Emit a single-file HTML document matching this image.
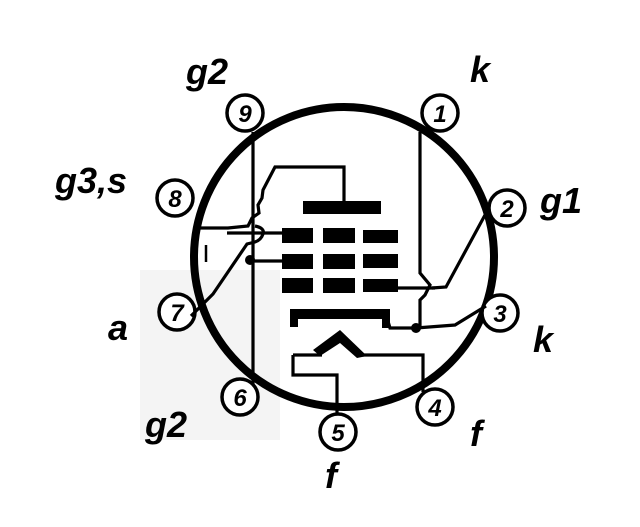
<!DOCTYPE html>
<html><head><style>
html,body{margin:0;padding:0;background:#fff;}
svg{display:block;}
text{font-family:"Liberation Sans",sans-serif;font-style:italic;fill:#000;}
</style></head><body>
<svg width="640" height="527" viewBox="0 0 640 527" xmlns="http://www.w3.org/2000/svg">
<rect x="140" y="270" width="140" height="170" fill="#f4f4f4"/>
<g fill="none" stroke="#000">
<ellipse cx="344" cy="257" rx="150" ry="150" stroke-width="8"/>
<g stroke-width="3.5" fill="#fff">
<circle cx="245" cy="113" r="18"/>
<circle cx="440" cy="113" r="18"/>
<circle cx="175" cy="198" r="18"/>
<circle cx="507" cy="208" r="18"/>
<circle cx="177" cy="312" r="18"/>
<circle cx="500" cy="313" r="18"/>
<circle cx="240" cy="397" r="18"/>
<circle cx="435" cy="407" r="18"/>
<circle cx="338" cy="432" r="18"/>
</g>
<g stroke-width="3.2">
<line x1="253" y1="132" x2="253" y2="384"/>
<polyline points="344,202 344,167 275,167 263,190 262,198 258,205 259,213 252,218 248,226 228,228 200,228"/>
<line x1="227" y1="233" x2="283" y2="233"/>
<path d="M255,226 q10,2 8,8 q-2,6 -8,8 l-8,2 l-34,50 l-22,22"/>
<line x1="250" y1="261" x2="283" y2="261"/>
<line x1="212" y1="183" x2="203" y2="203" stroke-width="2.5"/>
<line x1="206" y1="245" x2="206" y2="262" stroke-width="2.5"/>
<polyline points="420,132 420,273 430,285 425,295 420,300 420,328"/>
<line x1="398" y1="288" x2="435" y2="288"/>
<polyline points="485,215 446,287 432,288"/>
<polyline points="387,318 390,328 416,328 455,325 486,306"/>
<polyline points="293,355 293,375 337,375 337,414"/>
<polyline points="362,355 423,355 423,392"/>
<polyline points="293,355 322,355"/>
</g>
</g>
<g fill="#000">
<rect x="303" y="201" width="78" height="13"/>
<rect x="282" y="228" width="31" height="15"/>
<rect x="323" y="228" width="32" height="15"/>
<rect x="363" y="230" width="35" height="13"/>
<rect x="282" y="254" width="31" height="15"/>
<rect x="323" y="254" width="32" height="15"/>
<rect x="363" y="254" width="35" height="14"/>
<rect x="282" y="278" width="31" height="15"/>
<rect x="323" y="278" width="32" height="15"/>
<rect x="363" y="279" width="35" height="13"/>
<rect x="290" y="309" width="98" height="10"/>
<rect x="290" y="309" width="8" height="18"/>
<rect x="382" y="309" width="8" height="19"/>
<circle cx="250" cy="260" r="5"/>
<circle cx="416" cy="328" r="5"/>
<polygon points="313,350 340,330 367,356 357,358 340,343 320,356"/>
</g>
<g font-size="24" font-weight="bold" text-anchor="middle">
<text x="245" y="122">9</text>
<text x="440" y="122">1</text>
<text x="175" y="207">8</text>
<text x="507" y="217">2</text>
<text x="177" y="321">7</text>
<text x="500" y="322">3</text>
<text x="240" y="406">6</text>
<text x="435" y="416">4</text>
<text x="338" y="441">5</text>
</g>
<g font-size="36" font-weight="bold">
<text x="186" y="84">g2</text>
<text x="470" y="82">k</text>
<text x="55" y="193">g3,s</text>
<text x="540" y="213">g1</text>
<text x="108" y="340">a</text>
<text x="533" y="352">k</text>
<text x="145" y="437">g2</text>
<text x="470" y="446">f</text>
<text x="325" y="488">f</text>
</g>
</svg>
</body></html>
